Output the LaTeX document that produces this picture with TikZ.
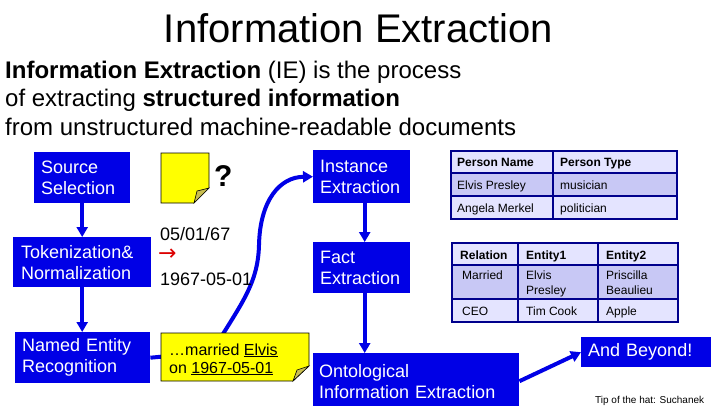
\documentclass[tikz,border=0pt]{standalone}
\usepackage{fontspec}
\setmainfont{Liberation Sans}
\newfontfamily\djv{DejaVu Sans}
\usetikzlibrary{arrows.meta}
\definecolor{boxblue}{RGB}{0,0,230}
\definecolor{tabline}{RGB}{0,0,140}
\definecolor{tlight}{RGB}{228,228,255}
\definecolor{tdark}{RGB}{200,200,245}
\definecolor{noteyellow}{RGB}{255,255,0}
\definecolor{foldolive}{RGB}{200,190,80}
\definecolor{arrred}{RGB}{220,0,0}
\tikzset{
  blk/.style={fill=boxblue, text=white, font=\fontsize{18}{21}\selectfont, align=left,
    anchor=north west, inner xsep=7pt, inner ysep=0pt},
  flow/.style={draw=boxblue, line width=4pt, -{Triangle[width=11pt,length=10pt]}},
  txt/.style={anchor=base west, inner sep=0pt},
  ttxt/.style={anchor=base west, inner sep=0pt, font=\fontsize{12}{15}\selectfont},
  thd/.style={anchor=base west, inner sep=0pt, font=\fontsize{12}{15}\selectfont\bfseries},
  tgrid/.style={draw=tabline, line width=2pt},
  note/.style={fill=noteyellow, draw=black, line width=0.6pt, line join=miter},
  fold/.style={fill=foldolive, draw=black, line width=0.6pt}
}
\begin{document}
\begin{tikzpicture}[x=1pt,y=-1pt]
\useasboundingbox (0,0) rectangle (720,405);
\fill[white] (0,0) rectangle (720,405);

% title and intro
\node[anchor=base, inner sep=0pt, font=\fontsize{40}{48}\selectfont] (title) at (358.5,42) {Information Extraction};
\node[txt, font=\fontsize{24}{28}\selectfont] (l1) at (5,78) {\textbf{Information Extraction} (IE) is the process};
\node[txt, font=\fontsize{24}{28}\selectfont] (l2) at (5,106.5) {of extracting \textbf{structured information}};
\node[txt, font=\fontsize{24}{28}\selectfont] (l3) at (5,135) {from unstructured machine-readable documents};

% blue boxes
\node[blk, minimum height=51pt, text width=82pt] (src) at (34,152) {Source\\Selection};
\node[blk, inner xsep=8pt, minimum height=50pt, text width=122pt] (tok) at (13,237) {Tokenization\&\\Normalization};
\node[blk, minimum height=51pt, text width=121pt] (ner) at (15,332) {Named Entity\\Recognition};
\node[blk, minimum height=53pt, text width=83pt] (inst) at (313,150) {Instance\\Extraction};
\node[blk, minimum height=51pt, text width=83pt] (fact) at (313,242) {Fact\\Extraction};
\node[blk, inner xsep=6pt, minimum height=56pt, text width=194pt] (ont) at (313,353) {Ontological\\Information Extraction};
\node[blk, minimum height=30pt, text width=116pt] (beyond) at (581,337) {And Beyond!};

% connectors
\draw[flow] (src.south) -- (tok.north);
\draw[flow] (tok.south) -- (tok.south |- ner.north);
\draw[flow] ([xshift=3pt]inst.south) -- ([xshift=3pt]fact.north);
\draw[flow] ([xshift=3pt]fact.south) -- ([xshift=3pt]fact.south |- ont.north);
\draw[flow] (ont.east) -- (beyond.west);
\draw[flow] (ner.east) -- (212,352) .. controls (240,305) and (258,285) .. (259,245)
  .. controls (260,200) and (280,177) .. (inst.west);

% small note
\draw[note] (161,153) -- (209,153) -- (209,188) -- (194,203) -- (161,203) -- cycle;
\draw[fold] (209,188) -- (197,191) -- (194,203) -- cycle;
\node[txt, font=\fontsize{30}{36}\selectfont\bfseries] (qm) at (214,186) {?};

% date normalisation
\node[txt, font=\fontsize{18}{21}\selectfont] (d1) at (160,240) {05/01/67};
\node[anchor=base west, inner sep=0pt, text height=9pt, text depth=0pt, text=arrred, font=\djv\fontsize{22}{26}\selectfont] (darr) at (158,260) {→};
\node[txt, font=\fontsize{18}{21}\selectfont] (d2) at (160,285) {1967-05-01};

% big note
\draw[note] (161,333) -- (309,333) -- (309,366) -- (293,381) -- (161,381) -- cycle;
\draw[fold] (309,366) -- (297,370) -- (293,381) -- cycle;
\node[txt, font=\fontsize{16}{19}\selectfont] (n1) at (169,355) {\dots married \underline{Elvis}};
\node[txt, font=\fontsize{16}{19}\selectfont] (n2) at (169,373) {on \underline{1967-05-01}};

% table 1
\fill[tlight] (451,151) rectangle (677,173);
\fill[tdark] (451,173) rectangle (677,196);
\fill[tlight] (451,196) rectangle (677,219);
\draw[tgrid] (451,151) rectangle (677,219);
\draw[tgrid] (451,173) -- (677,173);
\draw[tgrid] (451,196) -- (677,196);
\draw[tgrid] (553,151) -- (553,219);
\node[thd] (t1h1) at (457,166.5) {Person Name};
\node[thd] (t1h2) at (560,166.5) {Person Type};
\node[ttxt] (t1a1) at (457,189) {Elvis Presley};
\node[ttxt] (t1a2) at (560,189) {musician};
\node[ttxt] (t1b1) at (457,212) {Angela Merkel};
\node[ttxt] (t1b2) at (560,212) {politician};

% table 2
\fill[tlight] (452,243) rectangle (678,265);
\fill[tdark] (452,265) rectangle (678,299);
\fill[tlight] (452,299) rectangle (678,322);
\draw[tgrid] (452,243) rectangle (678,322);
\draw[tgrid] (452,265) -- (678,265);
\draw[tgrid] (452,299) -- (678,299);
\draw[tgrid] (518,243) -- (518,322);
\draw[tgrid] (598,243) -- (598,322);
\node[thd] (t2h1) at (460,259) {Relation};
\node[thd] (t2h2) at (526,259) {Entity1};
\node[thd] (t2h3) at (606,259) {Entity2};
\node[ttxt] (t2a1) at (462,279) {Married};
\node[ttxt] (t2a2) at (526,279) {Elvis};
\node[ttxt] (t2a2b) at (526,294) {Presley};
\node[ttxt] (t2a3) at (606,279) {Priscilla};
\node[ttxt] (t2a3b) at (606,294) {Beaulieu};
\node[ttxt] (t2b1) at (462,315) {CEO};
\node[ttxt] (t2b2) at (526,315) {Tim Cook};
\node[ttxt] (t2b3) at (606,315) {Apple};

% credit
\node[txt, font=\fontsize{10}{12}\selectfont] (tip) at (595,403) {Tip of the hat: Suchanek};
\end{tikzpicture}
\end{document}
